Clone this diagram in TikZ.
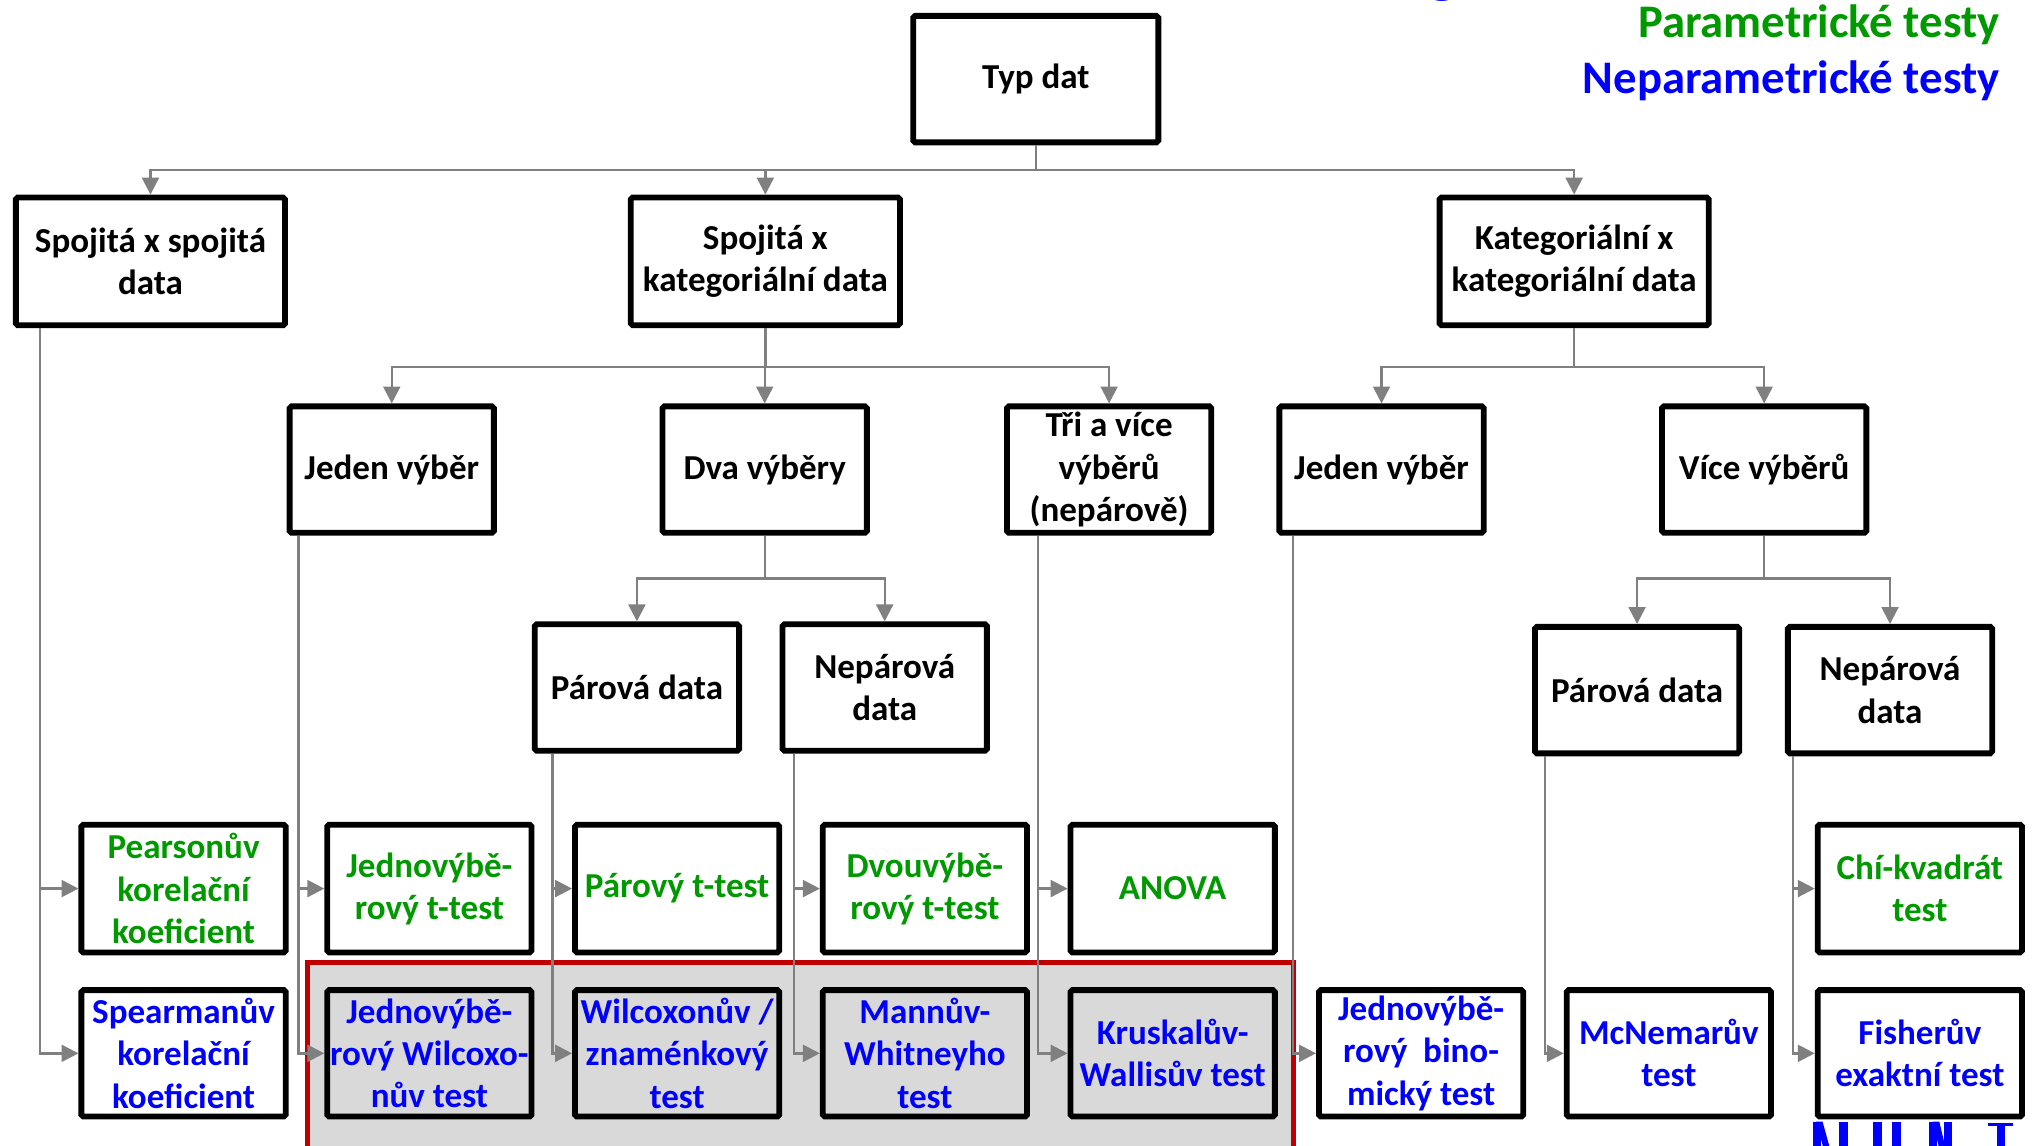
\documentclass[tikz,border=0pt]{standalone}
\usepackage{fontspec}
\setmainfont{Carlito}
\usetikzlibrary{arrows.meta,calc}
\definecolor{pgreen}{RGB}{0,153,0}
\definecolor{pblue}{RGB}{0,0,255}
\definecolor{cgray}{RGB}{128,128,128}
\definecolor{dred}{RGB}{192,0,0}
\definecolor{lgray}{RGB}{217,217,217}
\begin{document}
\begin{tikzpicture}[x=1pt,y=-1pt,
 box/.style={draw=black, line width=4.5pt, fill=white, rounded corners=1.5pt, align=center, inner sep=0pt,
   minimum width=157.5pt, minimum height=97.5pt, font=\fontsize{27}{32.5}\selectfont\bfseries},
 wbox/.style={box, minimum width=207.5pt, minimum height=98.5pt},
 ptest/.style={box, text=pgreen, minimum height=98.5pt},
 ntest/.style={box, text=pblue, minimum height=97.5pt},
 gtest/.style={ntest, fill=lgray},
 conn/.style={draw=cgray, line width=1.8pt, -{Triangle[length=13pt,width=13pt]}},
 trunk/.style={draw=cgray, line width=1.8pt},
 ttl/.style={anchor=base east, font=\fontsize{36}{44}\selectfont\bfseries},
]
\useasboundingbox (0,0) rectangle (1568,882.7);
\clip (0,0) rectangle (1568,882.7);

% fragment at top
\node[anchor=base, text=pblue, font=\fontsize{50}{60}\selectfont\bfseries, inner sep=0pt] (gfrag) at (1112,-7) {g};

% titles
\node[ttl, text=pgreen] (tpar) at (1545,29) {Parametrické testy};
\node[ttl, text=pblue] (tnep) at (1545,72) {Neparametrické testy};

% red highlight region
\draw[dred, line width=4pt, fill=lgray] (237,742) rectangle (997,900);

% boxes
\node[box, minimum width=189pt] (typ) at (798.5,61) {Typ dat};

\node[wbox] (ss) at (116,201.5) {Spojitá x spojitá\\data};
\node[wbox] (sk) at (590,201.5) {Spojitá x\\kategoriální data};
\node[wbox] (kk) at (1213.5,201.5) {Kategoriální x\\kategoriální data};

\node[box] (j1) at (302,362) {Jeden výběr};
\node[box] (dva) at (589.5,362) {Dva výběry};
\node[box] (tri) at (855,362) {Tři a více\\výběrů\\(nepárově)};
\node[box] (j2) at (1065,362) {Jeden výběr};
\node[box] (vice) at (1360,362) {Více výběrů};

\node[box] (par1) at (491,530) {Párová data};
\node[box] (nep1) at (682,530) {Nepárová\\data};
\node[box] (par2) at (1262,532) {Párová data};
\node[box] (nep2) at (1457,532) {Nepárová\\data};

\node[ptest] (pear) at (141.5,685) {Pearsonův\\korelační\\koeficient};
\node[ptest] (tt1) at (331,685) {Jednovýbě-\\rový t-test};
\node[ptest] (ptt) at (522,685) {Párový t-test};
\node[ptest] (dtt) at (713,685) {Dvouvýbě-\\rový t-test};
\node[ptest] (anova) at (904,685) {ANOVA};
\node[ptest] (chi) at (1480,685) {Chí-kvadrát\\test};

\node[ntest] (spear) at (141.5,812) {Spearmanův\\korelační\\koeficient};
\node[gtest] (wil1) at (331,812) {Jednovýbě-\\rový Wilcoxo-\\nův test};
\node[gtest] (wil2) at (522,812) {Wilcoxonův /\\znaménkový\\test};
\node[gtest] (mw) at (713,812) {Mannův-\\Whitneyho\\test};
\node[gtest] (kw) at (904,812) {Kruskalův-\\Wallisův test};
\node[ntest] (bin) at (1095.5,812) {Jednovýbě-\\rový\ \ bino-\\mický test};
\node[ntest] (mcn) at (1286.5,812) {McNemarův\\test};
\node[ntest] (fis) at (1480,812) {Fisherův\\exaktní test};

% tree connectors
\draw[trunk] (typ.south) -- ++(0,19) coordinate (t0);
\draw[conn] (t0) -| (ss);
\draw[conn] (t0) -| (sk);
\draw[conn] (t0) -| (kk);

\draw[trunk] (sk.south) -- ++(0,30) coordinate (t1);
\draw[conn] (t1) -| (j1);
\draw[conn] (t1) -| (dva);
\draw[conn] (t1) -| (tri);

\draw[trunk] (kk.south) -- ++(0,30) coordinate (t2);
\draw[conn] (t2) -| (j2);
\draw[conn] (t2) -| (vice);

\draw[trunk] (dva.south) -- ++(0,33) coordinate (t3);
\draw[conn] (t3) -| (par1);
\draw[conn] (t3) -| (nep1);

\draw[trunk] (vice.south) -- ++(0,33) coordinate (t4);
\draw[conn] (t4) -| (par2);
\draw[conn] (t4) -| (nep2);

% side connectors
\draw[conn] ([xshift=21pt]ss.south west) |- (pear);
\draw[conn] ([xshift=21pt]ss.south west) |- (spear);
\draw[conn] ([xshift=9pt]j1.south west) |- (tt1);
\draw[conn] ([xshift=9pt]j1.south west) |- (wil1);
\draw[conn] ([xshift=16pt]par1.south west) |- (ptt);
\draw[conn] ([xshift=16pt]par1.south west) |- (wil2);
\draw[conn] ([xshift=11pt]nep1.south west) |- (dtt);
\draw[conn] ([xshift=11pt]nep1.south west) |- (mw);
\draw[conn] ([xshift=26pt]tri.south west) |- (anova);
\draw[conn] ([xshift=26pt]tri.south west) |- (kw);
\draw[conn] ([xshift=13pt]j2.south west) |- (bin);
\draw[conn] ([xshift=10pt]par2.south west) |- (mcn);
\draw[conn] ([xshift=6pt]nep2.south west) |- (chi);
\draw[conn] ([xshift=6pt]nep2.south west) |- (fis);

% logo fragment at bottom right
\fill[pblue] (1397.4,864.7) rectangle (1403.5,890);
\fill[pblue] (1400,864.7) -- (1405,864.7) -- (1412,890) -- (1407,890) -- cycle;
\fill[pblue] (1417.8,864.7) rectangle (1424.7,890);
\fill[pblue] (1443.6,864.7) rectangle (1450.6,890);
\fill[pblue] (1458.3,864.7) rectangle (1465.2,890);
\fill[pblue] (1487,864.7) rectangle (1493,890);
\fill[pblue] (1490,864.7) -- (1495,864.7) -- (1501,890) -- (1496,890) -- cycle;
\fill[pblue] (1498.6,864.7) rectangle (1504.5,890);
\fill[pblue] (1532.8,865.5) rectangle (1552,868);
\fill[pblue] (1539.2,865.5) rectangle (1545.7,890);
\end{tikzpicture}
\end{document}
